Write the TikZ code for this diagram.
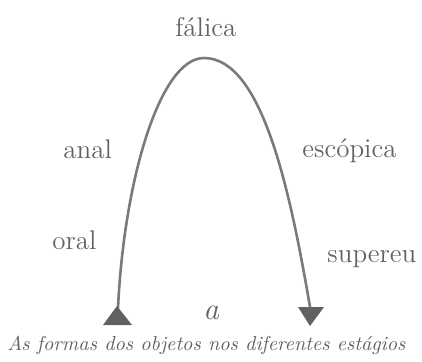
\documentclass[tikz,border=0pt]{standalone}
\usepackage{tikz}
\usetikzlibrary{positioning}

\begin{document}
\begin{tikzpicture}[
  x=0.5pt,y=-0.5pt,
  line cap=round,
  line join=round,
  every node/.style={inner sep=0pt,text=black!62},
  stage/.style={anchor=base west,font=\fontsize{13.5}{16}\selectfont},
  curve/.style={black!52,line width=1.3pt},
  tip/.style={fill=black!62}
]
% Bounding box.
\useasboundingbox (0,0) rectangle (422,361);

% Stage labels.
\node[stage] (falica) at (175,36) {fálica};
\node[stage] (anal) at (63,158) {anal};
\node[stage] (escopica) at (302,157) {escópica};
\node[stage] (oral) at (52,249) {oral};
\node[stage] (supereu) at (327,262) {supereu};
\node[stage,font=\itshape\fontsize{15.5}{18}\selectfont] (obj) at (203,319) {a};
\node[stage,font=\itshape\fontsize{10.1}{13}\selectfont] (caption) at (7,350)
  {As formas dos objetos nos diferentes estágios};

% The arc from the oral to the superego stage.
\coordinate (start) at (118,308);
\coordinate (top) at (204,58);
\coordinate (finish) at (310,307);
\draw[curve] (start) .. controls (124,180) and (160,58) .. (top)
  .. controls (262,58) and (290,190) .. (finish);

% Triangles at both ends.
\fill[tip] (117,306) -- (132,325) -- (103,325) -- cycle;
\fill[tip] (298,307) -- (324,307) -- (310,326) -- cycle;
\end{tikzpicture}
\end{document}
